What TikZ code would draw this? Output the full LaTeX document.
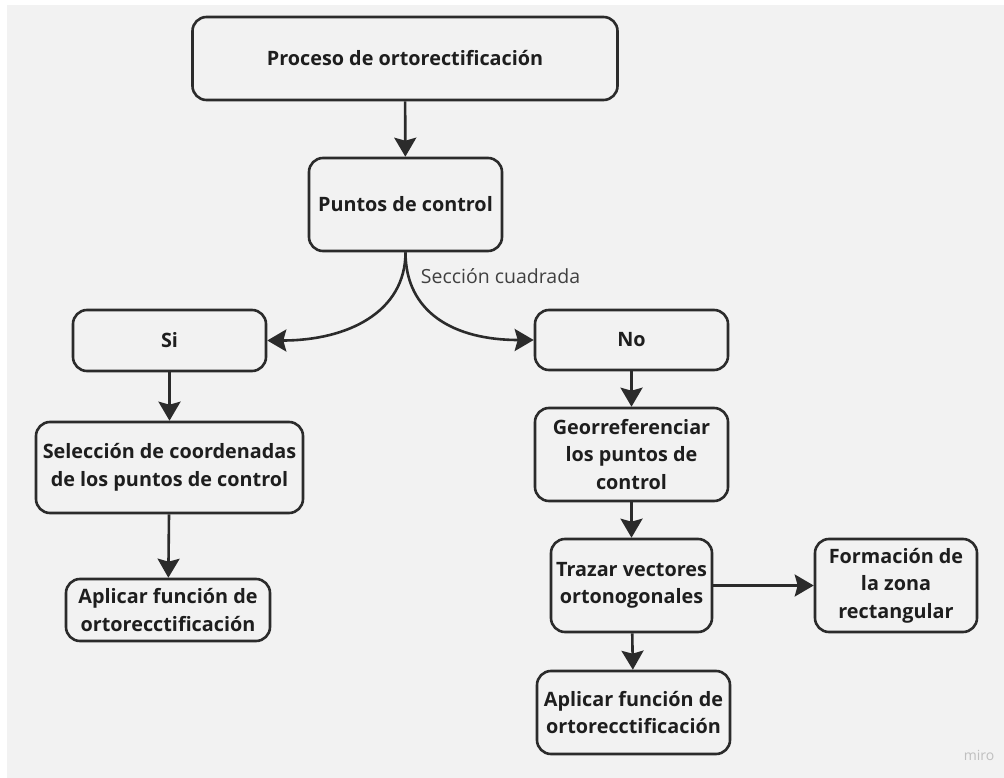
\documentclass[tikz,border=0pt]{standalone}
\usepackage{fontspec}
\setmainfont{Open Sans}
\usetikzlibrary{arrows.meta}

\definecolor{fondo}{HTML}{F2F2F2}
\definecolor{trazo}{HTML}{2B2B2B}
\definecolor{texto}{HTML}{1E1E1E}

\tikzset{
  caja/.style={draw=trazo, line width=2.6pt, rounded corners=14pt, align=center,
    text=texto, inner sep=2pt, font=\fontsize{19.8}{27.5}\selectfont\bfseries},
  flecha/.style={draw=trazo, line width=2.6pt,
    -{Stealth[length=19pt,width=22pt,inset=3pt]}},
}

\begin{document}
\begin{tikzpicture}[x=1pt,y=-1pt]
	\useasboundingbox (0,0) rectangle (1004,778);
	\fill[fondo] (7,5) rectangle (1004,778);
	% cajas
	\node[caja, minimum width=425pt, minimum height=83pt] (proceso) at (405,58.5) {Proceso de ortorectificación};
	\node[caja, minimum width=193pt, minimum height=93pt] (puntos) at (405.5,204.5) {Puntos de control};
	\node[caja, minimum width=193pt, minimum height=61pt] (si) at (169.5,340.5) {Si};
	\node[caja, minimum width=267pt, minimum height=91pt] (seleccion) at (169.5,467.5) {Selección de coordenadas\\de los puntos de control};
	\node[caja, minimum width=204pt, minimum height=62pt] (aplicarA) at (168,610) {Aplicar función de\\ortorecctificación};
	\node[caja, minimum width=193pt, minimum height=60pt] (no) at (631.5,340) {No};
	\node[caja, minimum width=193pt, minimum height=93pt] (geo) at (631.5,454.5) {Georreferenciar\\los puntos de\\control};
	\node[caja, minimum width=161pt, minimum height=93pt] (trazar) at (631.5,585.5) {Trazar vectores\\ortonogonales};
	\node[caja, minimum width=162pt, minimum height=93pt] (formacion) at (896,585.5) {Formación de\\la zona\\rectangular};
	\node[caja, minimum width=193pt, minimum height=83pt] (aplicarB) at (633.5,712.5) {Aplicar función de\\ortorecctificación};
	\node[text=texto!85, font=\fontsize{19.5}{23}\selectfont] (seccion) at (500.5,276) {Sección cuadrada};
	\node[text=black!25, font=\fontsize{14}{16}\selectfont] (miro) at (979,755) {miro};
	% flechas
	\draw[flecha] (proceso) -- (puntos);
	\draw[flecha] (puntos.south) .. controls +(0,60) and +(80,0) .. (si.east);
	\draw[flecha] (puntos.south) .. controls +(0,60) and +(-80,0) .. (no.west);
	\draw[flecha] (si) -- (seleccion);
	\draw[flecha] (seleccion) -- (aplicarA);
	\draw[flecha] (no) -- (geo);
	\draw[flecha] (geo) -- (trazar);
	\draw[flecha] (trazar) -- (formacion);
	\draw[flecha] (trazar) -- (aplicarB);
\end{tikzpicture}
\end{document}
